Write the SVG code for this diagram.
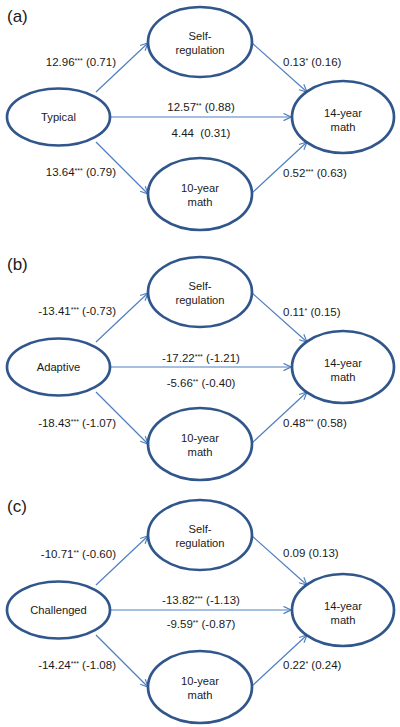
<svg xmlns="http://www.w3.org/2000/svg" width="400" height="727" viewBox="0 0 400 727">
<style>
.node ellipse{fill:#fff;stroke:#30568c;stroke-width:2.7}
.node text{font-family:"Liberation Sans",Arial,sans-serif;font-size:11.2px;fill:#1a1a1a;text-anchor:middle}
.lbl{font-family:"Liberation Sans",Arial,sans-serif;font-size:11.5px;fill:#1a1a1a}
.sup{font-size:7px}
.panel{font-family:"Liberation Sans",Arial,sans-serif;font-size:17px;fill:#1a1a1a}
.edges line{stroke:#4f7fbf;stroke-width:1.2;marker-end:url(#arr)}
.s{text-anchor:start}.e{text-anchor:end}.m{text-anchor:middle}
</style>
<defs>
<marker id="arr" viewBox="0 0 10 10" refX="9.3" refY="5" markerWidth="9" markerHeight="9" markerUnits="userSpaceOnUse" orient="auto">
<path d="M1,1 L9.3,5 L1,9" fill="none" stroke="#4f7fbf" stroke-width="1.3"/>
</marker>
</defs>
<rect width="400" height="727" fill="#fff"/>

<!-- Panel (a) -->
<g id="panel-a">
<text class="panel" x="7" y="22">(a)</text>
<g class="edges" id="edges-a">
<line x1="96" y1="92" x2="148" y2="43"/>
<line x1="96" y1="142" x2="148" y2="194"/>
<line x1="110" y1="117" x2="291" y2="117"/>
<line x1="252" y1="43" x2="307" y2="92"/>
<line x1="252" y1="193" x2="307" y2="142"/>
</g>
<g class="node" id="a-typical"><ellipse cx="58.5" cy="117" rx="51.5" ry="28.5"/><text x="58.5" y="121">Typical</text></g>
<g class="node" id="a-selfreg"><ellipse cx="200" cy="42" rx="52" ry="35"/><text x="200" y="40">Self-</text><text x="200" y="54">regulation</text></g>
<g class="node" id="a-math10"><ellipse cx="200" cy="194" rx="52" ry="36"/><text x="200" y="192">10-year</text><text x="200" y="206">math</text></g>
<g class="node" id="a-math14"><ellipse cx="343" cy="117" rx="51" ry="36"/><text x="343" y="117">14-year</text><text x="343" y="131">math</text></g>
<text class="lbl e" x="116" y="66">12.96<tspan class="sup" dy="-3.5">***</tspan><tspan dy="3.5"> (0.71)</tspan></text>
<text class="lbl e" x="116" y="176">13.64<tspan class="sup" dy="-3.5">***</tspan><tspan dy="3.5"> (0.79)</tspan></text>
<text class="lbl m" x="201" y="111">12.57<tspan class="sup" dy="-3.5">**</tspan><tspan dy="3.5"> (0.88)</tspan></text>
<text class="lbl m" x="201" y="137" xml:space="preserve">4.44  (0.31)</text>
<text class="lbl s" x="283" y="66">0.13<tspan class="sup" dy="-3.5">*</tspan><tspan dy="3.5"> (0.16)</tspan></text>
<text class="lbl s" x="283" y="177">0.52<tspan class="sup" dy="-3.5">***</tspan><tspan dy="3.5"> (0.63)</tspan></text>
</g>

<!-- Panel (b) -->
<g id="panel-b" transform="translate(0,250)">
<text class="panel" x="7" y="20">(b)</text>
<g class="edges" id="edges-b">
<line x1="96" y1="92" x2="148" y2="43"/>
<line x1="96" y1="142" x2="148" y2="194"/>
<line x1="110" y1="117" x2="291" y2="117"/>
<line x1="252" y1="43" x2="307" y2="92"/>
<line x1="252" y1="193" x2="307" y2="142"/>
</g>
<g class="node" id="b-adaptive"><ellipse cx="58.5" cy="117" rx="51.5" ry="28.5"/><text x="58.5" y="121">Adaptive</text></g>
<g class="node" id="b-selfreg"><ellipse cx="200" cy="42" rx="52" ry="35"/><text x="200" y="40">Self-</text><text x="200" y="54">regulation</text></g>
<g class="node" id="b-math10"><ellipse cx="200" cy="194" rx="52" ry="36"/><text x="200" y="192">10-year</text><text x="200" y="206">math</text></g>
<g class="node" id="b-math14"><ellipse cx="343" cy="117" rx="51" ry="36"/><text x="343" y="117">14-year</text><text x="343" y="131">math</text></g>
<text class="lbl e" x="116" y="65">-13.41<tspan class="sup" dy="-3.5">***</tspan><tspan dy="3.5"> (-0.73)</tspan></text>
<text class="lbl e" x="116" y="177">-18.43<tspan class="sup" dy="-3.5">***</tspan><tspan dy="3.5"> (-1.07)</tspan></text>
<text class="lbl m" x="201" y="112">-17.22<tspan class="sup" dy="-3.5">***</tspan><tspan dy="3.5"> (-1.21)</tspan></text>
<text class="lbl m" x="201" y="137">-5.66<tspan class="sup" dy="-3.5">**</tspan><tspan dy="3.5"> (-0.40)</tspan></text>
<text class="lbl s" x="283" y="66">0.11<tspan class="sup" dy="-3.5">*</tspan><tspan dy="3.5"> (0.15)</tspan></text>
<text class="lbl s" x="283" y="177">0.48<tspan class="sup" dy="-3.5">***</tspan><tspan dy="3.5"> (0.58)</tspan></text>
</g>

<!-- Panel (c) -->
<g id="panel-c" transform="translate(0,493)">
<text class="panel" x="7" y="19">(c)</text>
<g class="edges" id="edges-c">
<line x1="96" y1="92" x2="148" y2="43"/>
<line x1="96" y1="142" x2="148" y2="194"/>
<line x1="110" y1="117" x2="291" y2="117"/>
<line x1="252" y1="43" x2="307" y2="92"/>
<line x1="252" y1="193" x2="307" y2="142"/>
</g>
<g class="node" id="c-challenged"><ellipse cx="58.5" cy="117" rx="51.5" ry="28.5"/><text x="58.5" y="121">Challenged</text></g>
<g class="node" id="c-selfreg"><ellipse cx="200" cy="42" rx="52" ry="35"/><text x="200" y="40">Self-</text><text x="200" y="54">regulation</text></g>
<g class="node" id="c-math10"><ellipse cx="200" cy="194" rx="52" ry="36"/><text x="200" y="192">10-year</text><text x="200" y="206">math</text></g>
<g class="node" id="c-math14"><ellipse cx="343" cy="117" rx="51" ry="36"/><text x="343" y="117">14-year</text><text x="343" y="131">math</text></g>
<text class="lbl e" x="116" y="65">-10.71<tspan class="sup" dy="-3.5">**</tspan><tspan dy="3.5"> (-0.60)</tspan></text>
<text class="lbl e" x="116" y="176">-14.24<tspan class="sup" dy="-3.5">***</tspan><tspan dy="3.5"> (-1.08)</tspan></text>
<text class="lbl m" x="201" y="111">-13.82<tspan class="sup" dy="-3.5">***</tspan><tspan dy="3.5"> (-1.13)</tspan></text>
<text class="lbl m" x="201" y="135">-9.59<tspan class="sup" dy="-3.5">**</tspan><tspan dy="3.5"> (-0.87)</tspan></text>
<text class="lbl s" x="283" y="64">0.09 (0.13)</text>
<text class="lbl s" x="283" y="176">0.22<tspan class="sup" dy="-3.5">*</tspan><tspan dy="3.5"> (0.24)</tspan></text>
</g>
</svg>
